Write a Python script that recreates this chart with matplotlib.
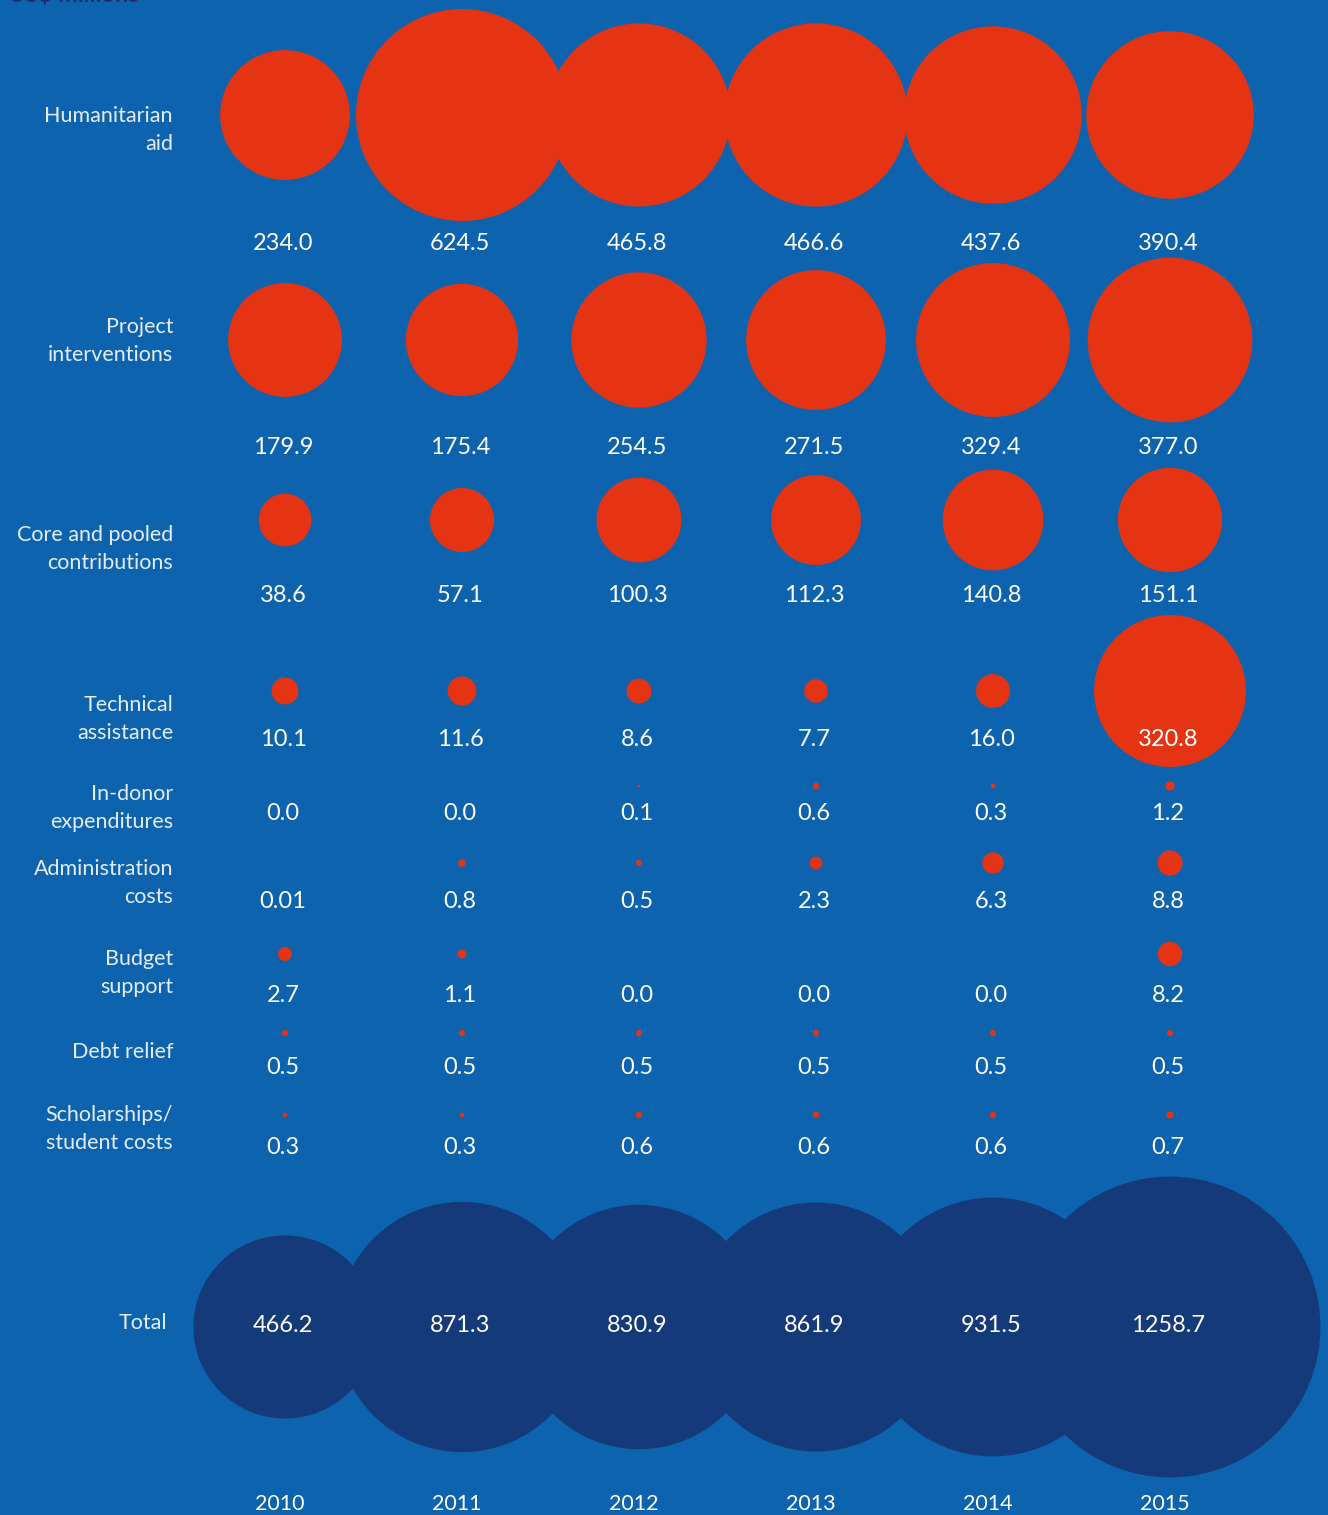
import matplotlib.pyplot as plt
import numpy as np

plt.rcParams['font.family'] = ['Lato', 'DejaVu Sans']

# Spending by category, US$ millions
years = ['2010', '2011', '2012', '2013', '2014', '2015']
categories = ['Humanitarian\naid', 'Project\ninterventions', 'Core and pooled\ncontributions',
              'Technical\nassistance', 'In-donor\nexpenditures', 'Administration\ncosts',
              'Budget\nsupport', 'Debt relief', 'Scholarships/\nstudent costs']
humanitarian = [234.0, 624.5, 465.8, 466.6, 437.6, 390.4]
project = [179.9, 175.4, 254.5, 271.5, 329.4, 377.0]
core_pooled = [38.6, 57.1, 100.3, 112.3, 140.8, 151.1]
technical = [10.1, 11.6, 8.6, 7.7, 16.0, 320.8]
in_donor = [0.0, 0.0, 0.1, 0.6, 0.3, 1.2]
administration = [0.01, 0.8, 0.5, 2.3, 6.3, 8.8]
budget_support = [2.7, 1.1, 0.0, 0.0, 0.0, 8.2]
debt_relief = [0.5, 0.5, 0.5, 0.5, 0.5, 0.5]
scholarships = [0.3, 0.3, 0.6, 0.6, 0.6, 0.7]
totals = [466.2, 871.3, 830.9, 861.9, 931.5, 1258.7]

series = [humanitarian, project, core_pooled, technical, in_donor,
          administration, budget_support, debt_relief, scholarships]
admin_labels = ['0.01', '0.8', '0.5', '2.3', '6.3', '8.8']

bg = '#0D63AE'
red = '#E53413'
navy = '#143A79'

W, H = 1328, 1515
fig = plt.figure(figsize=(W / 100, H / 100), dpi=100, facecolor=bg)
ax = fig.add_axes([0, 0, 1, 1])
ax.set_facecolor(bg)
ax.set_xlim(0, W)
ax.set_ylim(H, 0)
ax.axis('off')

col_x = np.array([285, 462, 639, 816, 993, 1170])
# row layout: (bubble y, value-label y, category-label y)
bubble_y = [115, 340, 520, 691, 786, 863, 954, 1033, 1115]
value_y = [243, 448, 595, 739, 814, 902, 995, 1067, 1147]
cat_y = [130, 341, 549, 719, 808, 883, 973, 1052, 1129]

# marker area proportional to value
k = (0.72 * 8.48) ** 2

for i, vals in enumerate(series):
    v = np.array(vals)
    ax.scatter(col_x, np.full(6, bubble_y[i]), s=k * v, color=red, linewidths=0, zorder=2)
    for j, val in enumerate(vals):
        txt = admin_labels[j] if i == 5 else f'{val:.1f}'
        ax.text(col_x[j] - 2, value_y[i], txt, color='white', fontsize=17,
                ha='center', va='center', zorder=4)
    ax.text(173, cat_y[i], categories[i], color='#E4ECF5', fontsize=15.5,
            ha='right', va='center', linespacing=1.45, zorder=4)

# totals row
tv = np.array(totals)
ax.scatter(col_x, np.full(6, 1327), s=k * tv, color=navy, linewidths=0, zorder=1)
for j, val in enumerate(totals):
    ax.text(col_x[j] - 2, 1326, f'{val:.1f}', color='white', fontsize=17,
            ha='center', va='center', zorder=4)
ax.text(167, 1323, 'Total', color='#E4ECF5', fontsize=15.5, ha='right', va='center')

for j, yr in enumerate(years):
    ax.text(col_x[j] - 5, 1504, yr, color='white', fontsize=15.5, ha='center', va='center')

ax.text(8, -6, 'US$ millions', color='#1F2C6E', fontsize=17, fontweight='bold',
        ha='left', va='center', clip_on=False)

fig.savefig('out.png', dpi=100, facecolor=bg)
